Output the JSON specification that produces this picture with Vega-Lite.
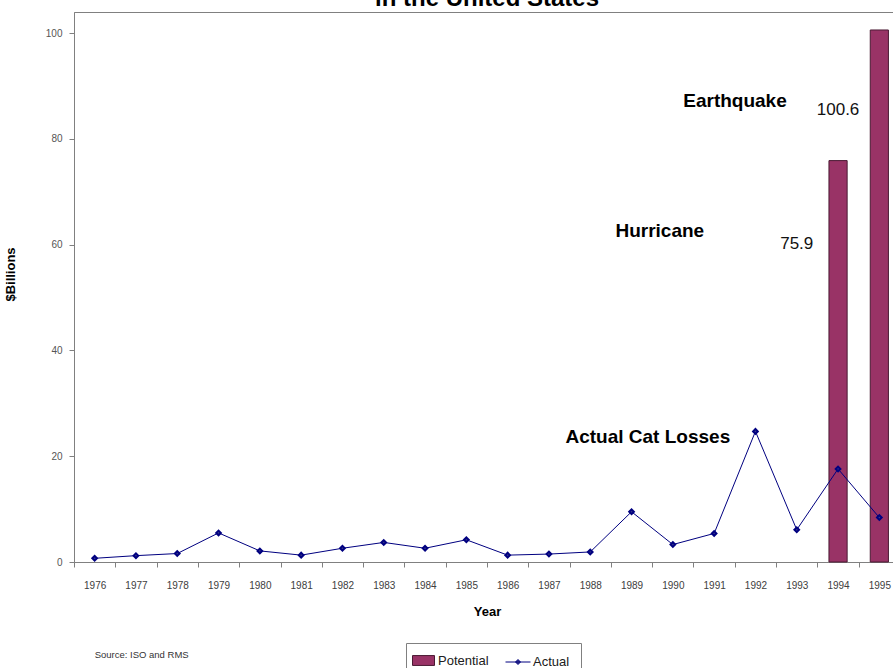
{
  "$schema": "https://vega.github.io/schema/vega-lite/v6.json",
  "width": 826,
  "height": 550,
  "autosize": "none",
  "padding": {"left": 74, "top": 12, "right": 0, "bottom": 106},
  "background": "white",
  "title": {"text": "in the United States", "fontSize": 24, "font": "Liberation Sans", "fontWeight": "bold", "offset": 1, "anchor": "middle", "color": "#000"},
  "config": {
    "view": {"stroke": "#808080", "strokeWidth": 1},
    "font": "Liberation Sans"
  },
  "datasets": {
    "losses": [
      {"year": "1976", "value": 0.7, "series": "Actual"},
      {"year": "1977", "value": 1.2, "series": "Actual"},
      {"year": "1978", "value": 1.6, "series": "Actual"},
      {"year": "1979", "value": 5.5, "series": "Actual"},
      {"year": "1980", "value": 2.1, "series": "Actual"},
      {"year": "1981", "value": 1.3, "series": "Actual"},
      {"year": "1982", "value": 2.6, "series": "Actual"},
      {"year": "1983", "value": 3.7, "series": "Actual"},
      {"year": "1984", "value": 2.6, "series": "Actual"},
      {"year": "1985", "value": 4.2, "series": "Actual"},
      {"year": "1986", "value": 1.3, "series": "Actual"},
      {"year": "1987", "value": 1.5, "series": "Actual"},
      {"year": "1988", "value": 1.9, "series": "Actual"},
      {"year": "1989", "value": 9.5, "series": "Actual"},
      {"year": "1990", "value": 3.3, "series": "Actual"},
      {"year": "1991", "value": 5.4, "series": "Actual"},
      {"year": "1992", "value": 24.7, "series": "Actual"},
      {"year": "1993", "value": 6.1, "series": "Actual"},
      {"year": "1994", "value": 17.6, "series": "Actual"},
      {"year": "1995", "value": 8.4, "series": "Actual"},
      {"year": "1994", "value": 75.9, "series": "Potential"},
      {"year": "1995", "value": 100.6, "series": "Potential"}
    ],
    "notes": [
      {"year": "1993", "value": 87.2, "label": "Earthquake", "kind": "heading"},
      {"year": "1991", "value": 62.5, "label": "Hurricane", "kind": "heading"},
      {"year": "1990", "value": 23.7, "label": "Actual Cat Losses", "kind": "lossnote"},
      {"year": "1994", "value": 85.4, "label": "100.6", "kind": "number"},
      {"year": "1993", "value": 60.2, "label": "75.9", "kind": "number"},
      {"year": "1976", "value": -17.6, "label": "Source: ISO and RMS", "kind": "source"}
    ]
  },
  "encoding": {
    "x": {
      "field": "year", "type": "ordinal",
      "scale": {"domain": ["1976","1977","1978","1979","1980","1981","1982","1983","1984","1985","1986","1987","1988","1989","1990","1991","1992","1993","1994","1995"], "paddingInner": 0, "paddingOuter": 0},
      "axis": {"title": "Year", "labelAngle": 0, "tickBand": "extent", "domainColor": "#808080", "tickColor": "#808080", "tickSize": 5, "labelFontSize": 10, "labelColor": "#404040", "labelPadding": 13, "titleFontSize": 13, "titleFontWeight": "bold", "titleColor": "#000", "titlePadding": 15}
    },
    "y": {
      "field": "value", "type": "quantitative",
      "scale": {"domain": [0, 104], "nice": false, "zero": true},
      "axis": {"title": "$Billions", "titleY": 262, "values": [0, 20, 40, 60, 80, 100], "grid": false, "domainColor": "#808080", "tickColor": "#808080", "tickSize": 5, "labelFontSize": 10, "labelColor": "#555555", "labelPadding": 7, "titleFontSize": 13, "titleFontWeight": "bold", "titleColor": "#000", "titlePadding": 28}
    }
  },
  "layer": [
    {
      "data": {"name": "losses"},
      "transform": [{"filter": "datum.series === 'Potential'"}],
      "mark": {"type": "bar", "width": {"band": 0.44}, "stroke": "#4a1a33", "strokeWidth": 1},
      "encoding": {
        "fill": {"field": "series", "type": "nominal", "scale": {"domain": ["Potential"], "range": ["#993366"]},
          "legend": {"title": "MMMMMMM", "titleOrient": "right", "titleColor": "transparent", "titleFontSize": 13, "titlePadding": 10, "orient": "none", "legendX": 332, "legendY": 631, "direction": "horizontal", "strokeColor": "#808080", "padding": 6, "labelFontSize": 13, "labelColor": "#202020", "labelOffset": 3, "symbolType": "M-1,-0.45L1,-0.45L1,0.45L-1,0.45Z", "symbolSize": 484, "symbolStrokeColor": "#4a1a33", "symbolStrokeWidth": 1}
        }
      }
    },
    {
      "data": {"name": "losses"},
      "transform": [{"filter": "datum.series === 'Actual'"}],
      "mark": {"type": "line", "strokeWidth": 1, "point": {"shape": "diamond", "size": 22, "filled": true, "color": "#000080"}},
      "encoding": {
        "stroke": {"field": "series", "type": "nominal", "scale": {"domain": ["Actual"], "range": ["#000080"]},
          "legend": {"title": null, "orient": "none", "legendX": 425, "legendY": 631, "direction": "horizontal", "padding": 6, "labelFontSize": 13, "labelColor": "#202020", "labelOffset": 2, "symbolType": "M-1,0L1,0M0,-0.2L0.2,0L0,0.2L-0.2,0Z", "symbolSize": 625, "symbolStrokeWidth": 1, "symbolFillColor": "#000080"}},
        "color": {"value": "#3a3a88"}
      }
    },
    {
      "data": {"name": "notes"},
      "transform": [{"filter": "datum.kind === 'heading'"}],
      "mark": {"type": "text", "fontSize": 19, "fontWeight": "bold", "align": "right", "dx": -10, "color": "#000"},
      "encoding": {"text": {"field": "label"}}
    },
    {
      "data": {"name": "notes"},
      "transform": [{"filter": "datum.kind === 'lossnote'"}],
      "mark": {"type": "text", "fontSize": 19, "fontWeight": "bold", "align": "center", "dx": -25, "color": "#000"},
      "encoding": {"text": {"field": "label"}}
    },
    {
      "data": {"name": "notes"},
      "transform": [{"filter": "datum.kind === 'number'"}],
      "mark": {"type": "text", "fontSize": 17, "align": "center", "color": "#111"},
      "encoding": {"text": {"field": "label"}}
    },
    {
      "data": {"name": "notes"},
      "transform": [{"filter": "datum.kind === 'source'"}],
      "mark": {"type": "text", "fontSize": 9.5, "align": "left", "color": "#333"},
      "encoding": {"text": {"field": "label"}}
    }
  ]
}
